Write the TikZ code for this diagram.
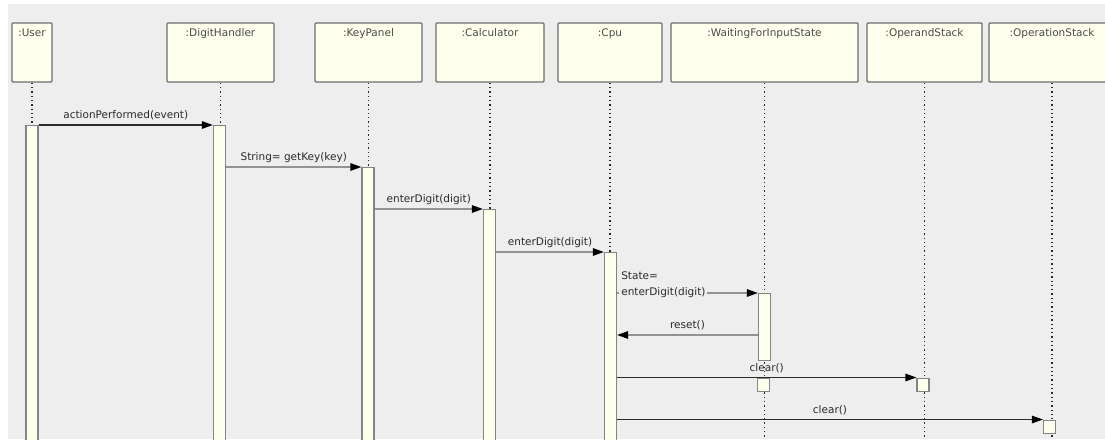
\documentclass[tikz,border=0pt]{standalone}
\usepackage{fontspec}
\setmainfont{DejaVu Sans}
\usetikzlibrary{arrows.meta,positioning}
\definecolor{panel}{HTML}{EEEEEE}
\definecolor{objfill}{HTML}{FFFFEE}
\definecolor{edge}{HTML}{6E6E6E}
\definecolor{ink}{HTML}{2A2A2A}

\begin{document}
\begin{tikzpicture}[x=1pt,y=-1pt,>={Triangle[length=11pt,width=7.5pt,color=black]},
  obj/.style={draw=edge,line width=1.4pt,fill=objfill,rounded corners=1pt,minimum height=59pt,inner sep=0pt},
  objname/.style={font=\fontsize{10.5}{12}\selectfont,text=ink!85,inner sep=0pt,text height=8pt,text depth=2pt},
  bar/.style={draw=edge!85,line width=1.2pt,fill=objfill,minimum width=12pt,inner sep=0pt,anchor=north},
  life/.style={draw=ink,line width=1.3pt,dash pattern=on 1.3pt off 3pt},
  msg/.style={->,line width=1.3pt,draw=gray!85},
  call/.style={->,line width=1.3pt,draw=ink},
  lbl/.style={font=\fontsize{10.5}{16}\selectfont,text=ink,inner sep=1pt,text height=8pt,text depth=2.5pt}]
  \fill[white] (0,0) rectangle (1105,439);
  \fill[panel] (8,4) rectangle (1105,439);
  \useasboundingbox (0,0) rectangle (1105,439);
  \clip (0,0) rectangle (1105,439);

  \node[obj,minimum width=40pt] (user) at (32,52.5) {};
  \node[obj,minimum width=107pt] (dh) at (220.5,52.5) {};
  \node[obj,minimum width=107pt] (kp) at (368.5,52.5) {};
  \node[obj,minimum width=108pt] (calc) at (490,52.5) {};
  \node[obj,minimum width=104pt] (cpu) at (610,52.5) {};
  \node[obj,minimum width=187pt] (wfis) at (764.5,52.5) {};
  \node[obj,minimum width=115pt] (opd) at (924.5,52.5) {};
  \node[obj,minimum width=126pt] (opn) at (1052,52.5) {};
  \node[objname,below=6pt of user.north] (userlbl) {:User};
  \node[objname,below=6pt of dh.north] (dhlbl) {:DigitHandler};
  \node[objname,below=6pt of kp.north] (kplbl) {:KeyPanel};
  \node[objname,below=6pt of calc.north] (calclbl) {:Calculator};
  \node[objname,below=6pt of cpu.north] (cpulbl) {:Cpu};
  \node[objname,below=6pt of wfis.north] (wfislbl) {:WaitingForInputState};
  \node[objname,below=6pt of opd.north] (opdlbl) {:OperandStack};
  \node[objname,below=6pt of opn.north] (opnlbl) {:OperationStack};

  \coordinate (resety) at (0,335);
  \coordinate (userbot) at (user |- 0,450);
  \coordinate (wfisbot) at (wfis |- 0,450);
  \coordinate (opdbot) at (opd |- 0,450);
  \coordinate (opnbot) at (opn |- 0,450);

  % activation bars and lifelines
  \draw[life] (user.south) -- (userbot);
  \draw[life] (dh.south) -- (dh |- 0,450);
  \draw[life] (kp.south) -- (kp |- 0,450);
  \draw[life] (calc.south) -- (calc |- 0,450);
  \draw[life] (cpu.south) -- (cpu |- 0,450);
  \draw[life] (wfis.south) -- (wfisbot);
  \draw[life] (opd.south) -- (opdbot);
  \draw[life] (opn.south) -- (opnbot);
  \node[bar,minimum height=330pt] (userbar) at (32,125) {};
  \node[bar,minimum height=330pt] (dhbar) at (219.5,125) {};
  \node[bar,minimum height=290pt] (kpbar) at (368,167) {};
  \node[bar,minimum height=250pt] (calcbar) at (489.5,209) {};
  \node[bar,minimum height=200pt] (cpubar) at (610.5,252) {};
  \node[bar,minimum height=67pt] (wfbar) at (764.5,293) {};
  \node[bar,minimum height=13pt] (wfbox) at (763.5,378) {};
  \node[bar,minimum height=13pt] (opdbox) at (923,377.5) {};
  \node[bar,minimum height=13pt] (opnbox) at (1049.5,419.5) {};

  % messages
  \draw[call] (userbar.north east) -- node[lbl,above=2pt] {actionPerformed(event)} (dhbar.north west);
  \draw[msg] (dhbar.east |- kpbar.north) -- node[lbl,above=2pt] {String= getKey(key)} (kpbar.north west);
  \draw[msg] (kpbar.east |- calcbar.north) -- node[lbl,above=2pt] {enterDigit(digit)} (calcbar.north west);
  \draw[msg] (calcbar.east |- cpubar.north) -- node[lbl,above=2pt] {enterDigit(digit)} (cpubar.north west);
  \draw[msg] (cpubar.east |- wfbar.north) -- (wfbar.north west);
  \node[lbl,fill=panel,anchor=west,align=left,inner sep=2pt] (statelbl) at ([xshift=2pt]cpubar.east |- wfbar.north) {State=\\enterDigit(digit)};
  \draw[msg] (wfbar.west |- resety) -- node[lbl,above=2pt] {reset()} (cpubar.east |- resety);
  \draw[call] (cpubar.east |- opdbox.north) -- node[lbl,above=2pt] {clear()} (opdbox.north west);
  \draw[call] (cpubar.east |- opnbox.north) -- node[lbl,above=2pt] {clear()} (opnbox.north west);
\end{tikzpicture}
\end{document}
